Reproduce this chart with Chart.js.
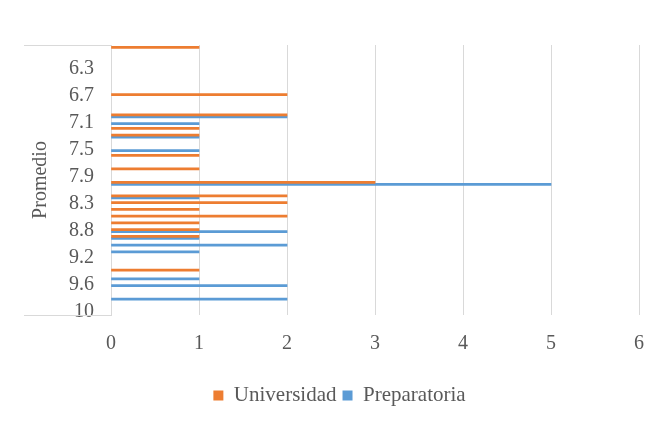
<!DOCTYPE html>
<html>
<head>
<meta charset="utf-8">
<script src="https://cdn.jsdelivr.net/npm/chart.js@4/dist/chart.umd.min.js"></script>
<style>
  html, body { margin: 0; padding: 0; background: #fff; }
  canvas { display: block; }
</style>
</head>
<body>
<canvas id="myChart" width="656" height="421"></canvas>
<script>
// categorias (Promedio), de arriba hacia abajo
const promedios = ['6', '6.1', '6.2', '6.3', '6.4', '6.5', '6.6', '6.7', '6.8', '6.9',
    '7', '7.1', '7.2', '7.3', '7.4', '7.5', '7.6', '7.7', '7.8', '7.9',
    '8', '8.1', '8.2', '8.3', '8.4', '8.5', '8.6', '8.8', '8.9', '9',
    '9.1', '9.2', '9.3', '9.4', '9.5', '9.6', '9.7', '9.8', '9.9', '10'];

// etiquetas visibles del eje
const etiquetasEje = ['6.3', '6.7', '7.1', '7.5', '7.9', '8.3', '8.8', '9.2', '9.6', '10'];

const universidad = [1, null, null, null, null, null, null, 2, null, null,
    2, null, 1, 1, null, null, 1, null, 1, null,
    3, null, 2, 2, 1, 2, 1, 1, 1, null,
    null, null, null, 1, null, null, null, null, null, null];

const preparatoria = [null, null, null, null, null, null, null, null, null, null,
    2, 1, null, 1, null, 1, null, null, null, null,
    5, null, 1, null, null, null, null, 2, 1, 2,
    1, null, null, null, 1, 2, null, 2, null, null];

const gris = '#595959';
const fuente = 'Liberation Serif';

// lineas del recuadro del eje de categorias
const recuadro = {
    id: 'recuadro',
    afterLayout(chart) {
        // la leyenda va un poco a la derecha, como en el original
        chart.legend.left += 40;
    },
    afterDraw(chart) {
        const ctx = chart.ctx;
        const a = chart.chartArea;
        ctx.save();
        ctx.strokeStyle = '#d9d9d9';
        ctx.lineWidth = 1;
        ctx.beginPath();
        ctx.moveTo(24, a.top + 0.5);
        ctx.lineTo(a.left, a.top + 0.5);
        ctx.moveTo(24, a.bottom + 0.5);
        ctx.lineTo(a.left, a.bottom + 0.5);
        ctx.stroke();
        ctx.restore();
    }
};

let graph = document.querySelector('#myChart');

const datas = {
    labels: promedios,
    datasets: [{
        label: 'Universidad',
        data: universidad,
        backgroundColor: '#ED7D31',
        barThickness: 2
    }, {
        label: 'Preparatoria',
        data: preparatoria,
        backgroundColor: '#5B9BD5',
        barThickness: 2
    }]
};

const config = {
    type: 'bar',
    data: datas,
    plugins: [recuadro],
    options: {
        indexAxis: 'y',
        responsive: false,
        animation: false,
        devicePixelRatio: 1,
        layout: { padding: { top: 45, right: 17, left: 0, bottom: 5 } },
        scales: {
            x: {
                min: 0,
                max: 6,
                ticks: { stepSize: 1, color: gris, padding: 0, font: { family: fuente, size: 20 } },
                grid: { color: '#d9d9d9', drawTicks: true, tickLength: 17, tickColor: 'rgba(0,0,0,0)' },
                border: { display: false },
                afterFit(scale) { scale.height = 64; }
            },
            y: {
                ticks: {
                    autoSkip: false,
                    color: gris,
                    padding: 17,
                    font: { family: fuente, size: 20 },
                    callback: function (value) {
                        const lab = this.getLabelForValue(value);
                        return etiquetasEje.includes(lab) ? lab : '';
                    }
                },
                grid: { display: false, drawTicks: false },
                border: { display: true, color: '#d9d9d9' },
                title: {
                    display: true,
                    text: 'Promedio',
                    color: gris,
                    padding: { top: 29, bottom: 0 },
                    font: { family: fuente, size: 20 }
                },
                afterFit(scale) { scale.width = 111; }
            }
        },
        plugins: {
            legend: {
                position: 'bottom',
                labels: {
                    boxWidth: 10,
                    boxHeight: 10,
                    padding: 6,
                    color: gris,
                    font: { family: fuente, size: 21 }
                }
            },
            tooltip: { enabled: false }
        }
    }
};

new Chart(graph, config);
</script>
</body>
</html>
